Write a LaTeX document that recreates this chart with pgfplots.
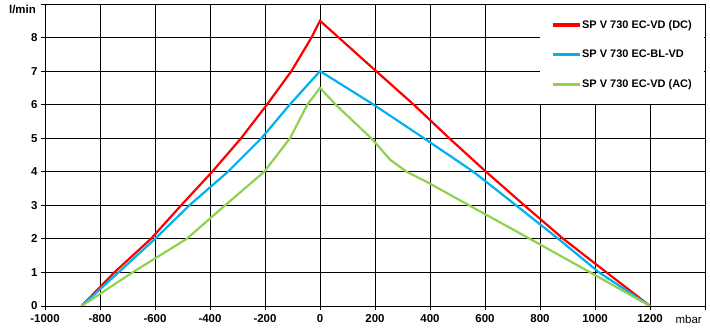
\documentclass[border=0pt]{standalone}
\usepackage{fontspec}
\setmainfont{Liberation Sans}
\usepackage{pgfplots}
\pgfplotsset{compat=1.18}
\definecolor{cred}{RGB}{255,0,0}
\definecolor{cblue}{RGB}{0,176,240}
\definecolor{cgreen}{RGB}{146,208,80}
\begin{document}
\begin{tikzpicture}
\useasboundingbox (0bp,0bp) rectangle (710bp,333bp);
\begin{axis}[
  at={(45bp,27bp)}, anchor=south west,
  scale only axis, width=660bp, height=302bp,
  xmin=-1000, xmax=1400, ymin=0, ymax=9,
  clip mode=individual,
  xtick={-1000,-800,...,1200}, ytick={0,1,...,8},
  extra x ticks={1400}, extra x tick labels={},
  extra y ticks={9}, extra y tick labels={},
  grid=major, major grid style={black, line width=0.8bp},
  axis line style={black, line width=0.8bp},
  tick align=outside, major tick length=4bp,
  tick style={black, line width=0.8bp},
  tick pos=left,
  ticklabel style={font=\fontsize{11.5}{12}\selectfont\bfseries},
  xticklabel style={yshift=-1bp},
  /pgf/number format/assume math mode=true,
  /pgf/number format/1000 sep={},
  legend style={at={(1,1)}, anchor=north east, xshift=-1bp, yshift=-1bp,
    draw=none, fill=white, inner xsep=11bp, inner ysep=15bp,
    row sep=20.5bp, font=\fontsize{11}{12}\selectfont\bfseries,
    nodes={inner xsep=1bp, inner ysep=0pt}},
  legend cell align=left,
  legend image code/.code={\draw[#1, line width=3.3bp] (0bp,0bp) -- (27bp,0bp);},
]
\addplot[cred, line width=2.2bp] coordinates {
(-867,0) (-748,1) (-615,2) (-505,3) (-392,4) (-287,5) (-193,6) (-104,7) (-31,8) (0,8.5)
(204,7) (341,6) (470,5) (604,4) (743,3) (885,2) (1042,1) (1200,0)};
\addlegendentry{SP V 730 EC-VD (DC)}
\addplot[cblue, line width=2.2bp] coordinates {
(-867,0) (-733,1) (-600,2) (-475,3) (-335,4) (-213,5) (-110,6) (0,7)
(195,6) (378,5) (558,4) (713,3) (867,2) (1015,1) (1200,0)};
\addlegendentry{SP V 730 EC-BL-VD}
\addplot[cgreen, line width=2.2bp] coordinates {
(-867,0) (-682,1) (-485,2) (-345,3) (-203,4) (-109,5) (-46,6) (0,6.5)
(57,6) (190,4.97) (255,4.36) (315,4.0) (388,3.7) (509,3.15) (779,1.93) (994,0.95) (1200,0)};
\addlegendentry{SP V 730 EC-VD (AC)}
\node[anchor=north east, inner sep=0pt, font=\fontsize{11.5}{12}\selectfont\bfseries]
  at ([xshift=-9bp,yshift=-1bp]rel axis cs:0,1) {l/min};
\node[anchor=base east, inner sep=0pt, font=\fontsize{11.5}{12}\selectfont]
  at ([xshift=-3bp,yshift=-17bp]rel axis cs:1,0) {mbar};
\end{axis}
\end{tikzpicture}
\end{document}
